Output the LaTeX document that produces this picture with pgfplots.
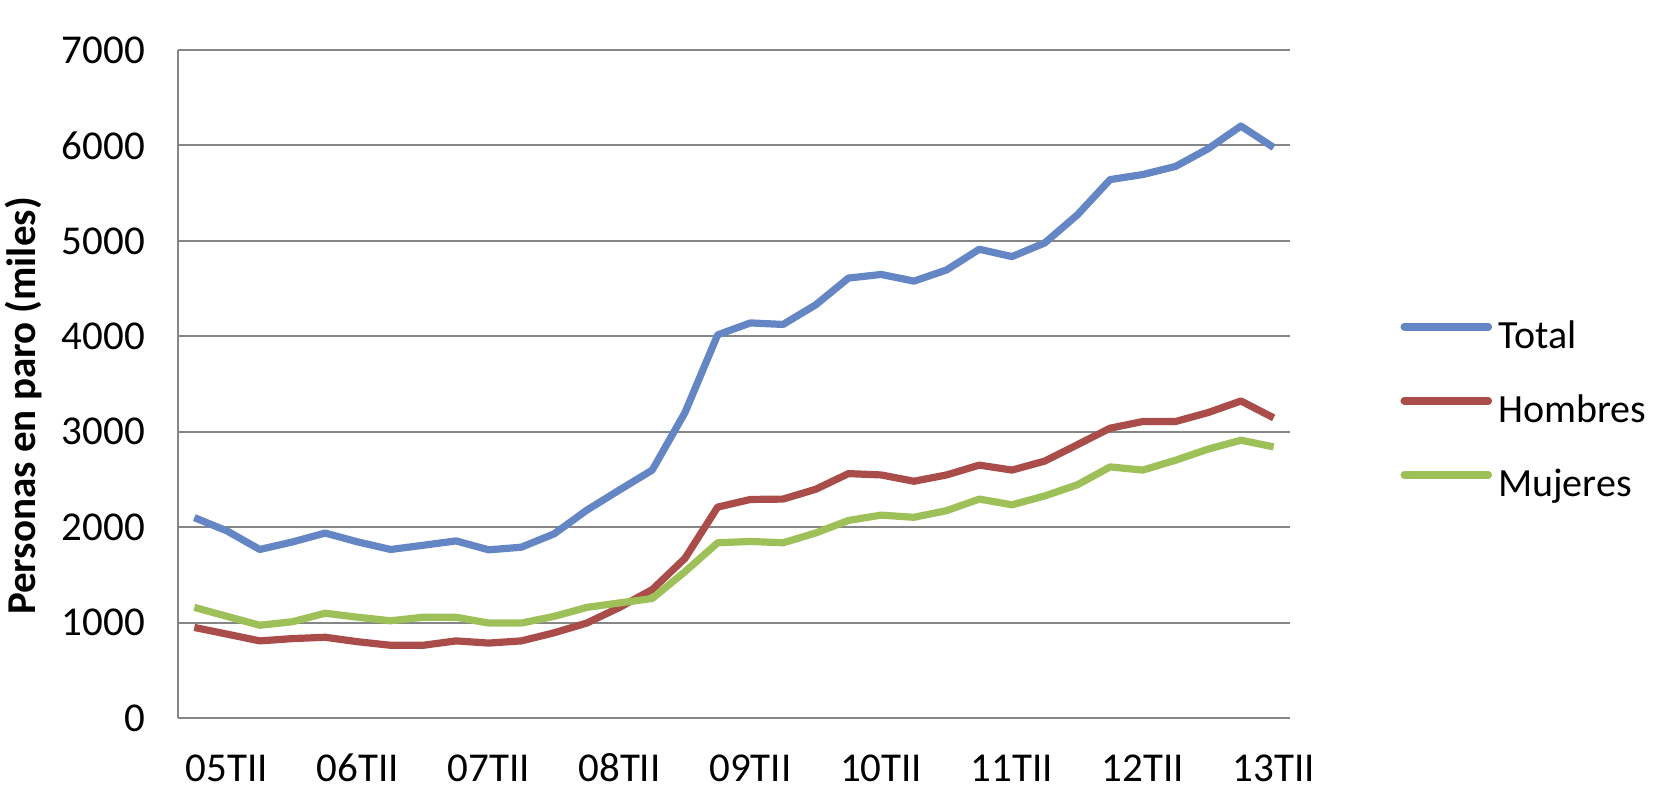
\documentclass[border=0pt]{standalone}
\usepackage{fontspec}
\setmainfont{Carlito}
\usepackage{pgfplots}
\usepackage{pgfplotstable}
\pgfplotsset{compat=1.18}
\definecolor{cTotal}{RGB}{100,134,197}
\definecolor{cHom}{RGB}{170,77,74}
\definecolor{cMuj}{RGB}{158,192,88}
\definecolor{cGrid}{RGB}{134,134,134}
\pgfplotstableread{
x total hombres mujeres
0 2100 949 1159
1 1960 879 1065
2 1766 808 972
3 1845 832 1009
4 1938 846 1098
5 1845 799 1056
6 1766 762 1019
7 1810 762 1056
8 1856 808 1056
9 1762 785 995
10 1790 808 995
11 1930 893 1065
12 2178 995 1159
13 2390 1159 1206
14 2598 1346 1252
15 3200 1673 1533
16 4015 2210 1836
17 4140 2290 1850
18 4124 2294 1836
19 4330 2397 1939
20 4610 2561 2070
21 4648 2547 2126
22 4578 2481 2103
23 4695 2547 2173
24 4912 2650 2294
25 4835 2598 2234
26 4978 2692 2327
27 5273 2864 2444
28 5642 3037 2631
29 5695 3107 2598
30 5780 3107 2701
31 5966 3201 2818
32 6203 3322 2911
33 5978 3145 2841
}\datatable
\begin{document}
\begin{tikzpicture}
\begin{axis}[
  at={(0,0)}, anchor=south west,
  scale only axis, width=556pt, height=334pt,
  xmin=-0.5, xmax=33.5, ymin=0, ymax=7000,
  xtick={1,5,9,13,17,21,25,29,33},
  xticklabels={05TII,06TII,07TII,08TII,09TII,10TII,11TII,12TII,13TII},
  ytick={0,1000,...,7000},
  major tick length=0pt,
  axis x line*=bottom, axis y line*=left,
  axis line style={-, draw=cGrid, line width=1pt},
  ymajorgrids, grid style={draw=cGrid, line width=1pt},
  font=\fontsize{20.5}{24}\selectfont,
  /pgf/number format/assume math mode=true,
  /pgf/number format/1000 sep={},
  xticklabel style={yshift=-15pt, text height=13pt, text depth=0pt},
  yticklabel style={xshift=-13pt},
  ylabel={\bfseries Personas en paro (miles)},
  every axis y label/.style={at={(axis description cs:-0.139,0.467)}, rotate=90, anchor=center},
  legend style={at={(axis description cs:1.099,0.457)}, anchor=west, draw=none, fill=none,
    inner sep=0pt, row sep=19pt,
    nodes={inner sep=0pt, text height=14pt, text depth=4pt, font=\fontsize{20}{24}\selectfont}},
  legend cell align=left,
  legend image code/.code={\draw[#1, line width=3.8pt, line cap=round] (0pt,6pt) -- (42pt,6pt);},
]
\addplot[cTotal, line width=3.6pt, line join=round] table[x=x, y=total] {\datatable};
\addlegendentry{\hspace{3pt}Total}
\addplot[cHom, line width=3.6pt, line join=round] table[x=x, y=hombres] {\datatable};
\addlegendentry{\hspace{3pt}Hombres}
\addplot[cMuj, line width=3.6pt, line join=round] table[x=x, y=mujeres] {\datatable};
\addlegendentry{\hspace{3pt}Mujeres}
\end{axis}
\pgfresetboundingbox
\path (-89pt,-40pt) rectangle (738pt,359pt);
\end{tikzpicture}
\end{document}
